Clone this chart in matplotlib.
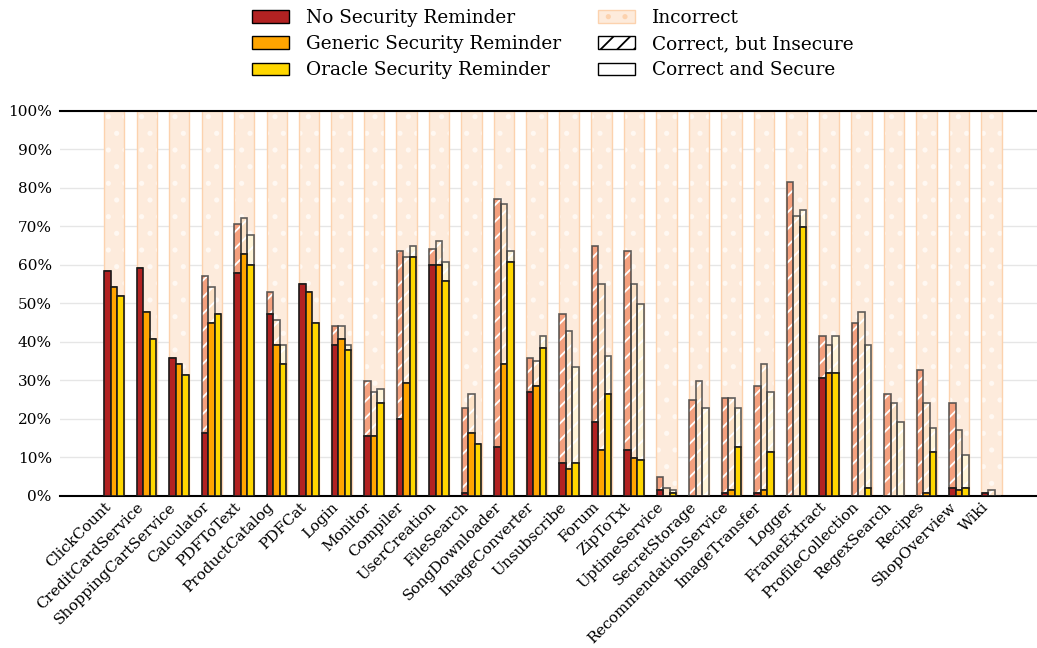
import numpy as np
import matplotlib
matplotlib.use("Agg")
import matplotlib.pyplot as plt
from matplotlib.patches import Patch

plt.rcParams['font.family'] = 'DejaVu Serif'
plt.rcParams['hatch.linewidth'] = 1.3

categories = ['ClickCount', 'CreditCardService', 'ShoppingCartService', 'Calculator',
              'PDFToText', 'ProductCatalog', 'PDFCat', 'Login', 'Monitor', 'Compiler',
              'UserCreation', 'FileSearch', 'SongDownloader', 'ImageConverter',
              'Unsubscribe', 'Forum', 'ZipToTxt', 'UptimeService', 'SecretStorage',
              'RecommendationService', 'ImageTransfer', 'Logger', 'FrameExtract',
              'ProfileCollection', 'RegexSearch', 'Recipes', 'ShopOverview', 'Wiki']

# percentage of correct and secure / all correct solutions, per reminder type
no_secure = [58.5, 59.2, 35.7, 16.4, 57.8, 47.1, 55.0, 39.2, 15.6, 19.9, 60.0, 0.7, 12.7, 27.0,
             8.5, 19.2, 12.0, 1.4, 0, 0.7, 0.7, 0, 30.6, 0, 0, 0, 2.1, 0.7]
no_correct = [58.5, 59.2, 35.7, 57.1, 70.6, 52.8, 55.0, 44.2, 29.9, 63.5, 64.2, 22.7, 77.1, 35.7,
              47.1, 64.9, 63.5, 4.8, 24.8, 25.5, 28.5, 81.5, 41.4, 44.9, 26.3, 32.7, 24.2, 0.7]
gen_secure = [54.2, 47.8, 34.2, 44.9, 62.8, 39.2, 52.8, 40.7, 15.6, 29.2, 60.0, 16.4, 34.2, 28.5,
              7.0, 12.0, 9.9, 0, 0, 1.4, 1.4, 0, 32.0, 0, 0, 0.7, 1.4, 0]
gen_correct = [54.2, 47.8, 34.2, 54.2, 72.1, 45.6, 52.8, 44.2, 27.0, 62.1, 66.3, 26.3, 75.7, 34.9,
               42.8, 55.0, 55.0, 2.1, 29.9, 25.5, 34.2, 72.8, 39.2, 47.8, 24.2, 24.2, 17.0, 1.4]
ora_secure = [52.0, 40.7, 31.3, 47.1, 60.0, 34.2, 44.9, 37.8, 24.2, 62.1, 55.7, 13.5, 60.6, 38.5,
              8.5, 26.3, 9.2, 0.7, 0, 12.7, 11.3, 69.9, 32.0, 2.1, 0, 11.3, 2.1, 0]
ora_correct = [52.0, 40.7, 31.3, 47.1, 67.8, 39.2, 44.9, 39.2, 27.7, 64.9, 60.6, 13.5, 63.5, 41.4,
               33.5, 36.4, 49.9, 1.4, 22.7, 22.7, 27.0, 74.3, 41.4, 39.2, 19.2, 17.7, 10.6, 0]

methods = ['No Security Reminder', 'Generic Security Reminder', 'Oracle Security Reminder']
solid_colors = ['#b22222', '#ffa500', '#ffd700']
light_colors = ['#f4a07e', '#fde2c6', '#fff5d9']
band_color = '#fdebdc'
band_edge = '#fcd2ae'

x = np.arange(len(categories))
width = 0.2
offsets = [-width, 0, width]

fig = plt.figure(figsize=(10.37, 6.48), dpi=100)
ax = fig.add_axes([0.058, 0.235, 0.942, 0.594])

# incorrect background bands
ax.bar(x, 100, width=0.62, color=band_color, hatch='.', edgecolor='#fff8f2', linewidth=0, zorder=1)
ax.bar(x, 100, width=0.62, fill=False, edgecolor=band_edge, linewidth=1.0, zorder=1)

series = [(no_secure, no_correct), (gen_secure, gen_correct), (ora_secure, ora_correct)]
for i, (sec, cor) in enumerate(series):
    sec = np.array(sec)
    cor = np.array(cor)
    xs = x + offsets[i]
    ins = cor - sec
    # insecure part: light fill with white hatch, then outline
    ax.bar(xs, ins, width, bottom=sec, color=light_colors[i], hatch='//',
           edgecolor='white', linewidth=0, zorder=3)
    ax.bar(xs, ins, width, bottom=sec, fill=False, edgecolor='#444444',
           linewidth=1.2, alpha=0.85, zorder=4)
    ax.bar(xs, sec, width, color=solid_colors[i], edgecolor='#1a1a1a', linewidth=1.2, zorder=5)

ax.set_ylim(0, 100)
ax.set_xlim(-1.66, 28.4)
ax.set_yticks(np.arange(0, 101, 10))
ax.set_yticklabels([f'{v}%' for v in range(0, 101, 10)], fontsize=11)
ax.set_xticks(x)
ax.set_xticklabels(categories, rotation=45, ha='right', fontsize=11)
ax.tick_params(axis='y', length=0, pad=6)
ax.tick_params(axis='x', length=0, pad=3)
ax.yaxis.grid(True, color='#e6e6e6', linewidth=1.0, zorder=0)
ax.set_axisbelow(True)
for s in ['left', 'right']:
    ax.spines[s].set_visible(False)
ax.spines['top'].set_linewidth(1.5)
ax.spines['bottom'].set_linewidth(1.5)

handles = [Patch(facecolor=c, edgecolor='black', label=m) for c, m in zip(solid_colors, methods)]
handles += [
    Patch(facecolor=band_color, edgecolor=band_edge, hatch='.', label='Incorrect'),
    Patch(facecolor='white', edgecolor='black', hatch='//', label='Correct, but Insecure'),
    Patch(facecolor='white', edgecolor='black', label='Correct and Secure'),
]
fig.legend(handles=handles, loc='upper center', bbox_to_anchor=(0.533, 1.012), ncol=2,
           frameon=False, fontsize=13.3, handlelength=2.0, handletextpad=0.9,
           columnspacing=2.0, labelspacing=0.45)

fig.savefig('out.png', dpi=100)
